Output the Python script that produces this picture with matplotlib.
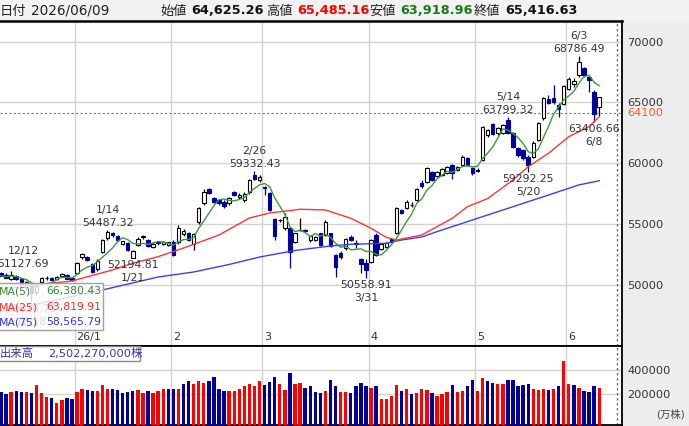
import numpy as np
import pandas as pd
import matplotlib
matplotlib.use('Agg')
import matplotlib.pyplot as plt
from matplotlib.patches import Rectangle

plt.rcParams['font.family'] = ['DejaVu Sans', 'Noto Sans CJK JP']

W, H = 689, 426

# ---- daily data, 2025/12/10 .. 2026/06/09 ----
opens = [
    51000, 50850, 50450, 50750, 50450, 49800, 50100, 49400, 50250, 50550,
    50560, 50450, 50700, 50850, 50550, 50950, 52270, 52300, 51700, 51280,
    52730, 53830, 54250, 54000, 53350, 53450, 52195, 53300, 53950, 53700,
    53150, 53500, 53400, 53300, 53560, 53500, 54150, 54240, 53380, 55190,
    56710, 57860, 57120, 56980, 56840, 56710, 57660, 57200, 56950, 57600,
    59040, 58630, 58080, 57530, 55420, 55300, 54650, 54650, 53560, 54480,
    54480, 53660, 53720, 54240, 54100, 54240, 52460, 52600, 53000, 53960,
    53400, 52100, 51800, 51910, 54100, 52990, 53140, 53750, 54290, 56160,
    56300, 56550, 57000, 58350, 58460, 59310, 58990, 59040, 59180, 59860,
    59450, 59860, 60410, 59590, 59400, 60270, 62330, 63210, 62470, 62470,
    63600, 62470, 61230, 61090, 60540, 60550, 61916, 63700, 65300, 65400,
    64800, 64900, 66100, 66500, 67260, 67810, 67120, 65890, 64625.26]
highs = [
    51100, 50950, 51127.69, 50850, 50550, 50300, 50200, 50000, 50650, 50700,
    50650, 50700, 51000, 50900, 50600, 51900, 52650, 52400, 51800, 52100,
    53800, 54487.32, 54350, 54100, 53650, 53550, 52900, 53900, 54100, 53800,
    53500, 53600, 53650, 53550, 53700, 54900, 54600, 54350, 54250, 56400,
    57860, 57950, 57250, 57100, 56950, 57200, 57750, 57550, 57600, 58700,
    59332.43, 59000, 58150, 57650, 55500, 55400, 55890, 54750, 54300, 55460,
    54600, 54050, 54000, 54300, 55300, 54300, 52550, 52800, 53850, 54100,
    53700, 52200, 52150, 53800, 54300, 53400, 53550, 53850, 56400, 56250,
    56950, 56800, 58000, 58630, 59700, 59400, 59400, 59600, 59750, 59950,
    59800, 60650, 60500, 59700, 59600, 63050, 62850, 63300, 62950, 63250,
    63799.32, 62550, 61300, 61200, 60650, 61800, 63400, 65450, 65620, 66440,
    64950, 66450, 67100, 67000, 68786.49, 67950, 67300, 66000, 65485.16]
lows = [
    50700, 50550, 50400, 50400, 49900, 49600, 48618.73, 49200, 50150, 50400,
    50350, 50400, 50650, 50450, 50300, 50900, 52150, 51950, 51000, 51150,
    52650, 53700, 53950, 53600, 53250, 52800, 52194.81, 53200, 53800, 53100,
    53050, 53300, 53300, 53200, 52350, 53400, 54000, 53600, 52870, 55000,
    56600, 57450, 56750, 56600, 56350, 56600, 57300, 57100, 56850, 57500,
    58600, 58500, 57400, 56100, 53700, 55200, 54500, 51360, 53450, 54450,
    54350, 53550, 53600, 53200, 54000, 53100, 50670, 52150, 52900, 53600,
    53000, 51000, 50558.91, 51800, 52350, 52850, 53050, 53450, 54200, 55800,
    56200, 56400, 56900, 58000, 58400, 58550, 58900, 58950, 59100, 58690,
    59350, 59750, 59750, 59050, 59250, 60200, 62200, 62300, 62350, 62400,
    62400, 61250, 60550, 60300, 59292.25, 60400, 61800, 63600, 64850, 64900,
    63830, 64800, 66000, 66300, 67100, 67100, 65890, 63406.66, 63918.96]
closes = [
    50750, 50600, 50850, 50500, 50050, 50200, 49300, 49900, 50580, 50600,
    50420, 50650, 50900, 50500, 50380, 51830, 52540, 52050, 51100, 51990,
    53690, 54320, 54100, 53700, 53600, 52870, 52810, 53800, 54000, 53200,
    53400, 53450, 53550, 53500, 52460, 54650, 54450, 53690, 54180, 56300,
    57660, 57580, 56840, 56700, 56490, 57120, 57390, 57420, 57480, 58630,
    58720, 58900, 57950, 56160, 54000, 55340, 55610, 52730, 54240, 54510,
    54430, 53980, 53900, 53280, 55200, 53200, 51500, 52270, 53750, 53700,
    53420, 51700, 51200, 53690, 52460, 53330, 53470, 53520, 56320, 55890,
    56840, 56570, 57900, 58100, 59590, 58630, 59310, 59500, 59660, 59180,
    59720, 60540, 59860, 59180, 59450, 62950, 62740, 62410, 62880, 63150,
    62470, 61370, 60680, 60410, 59860, 61700, 63290, 65340, 64930, 65000,
    64500, 66350, 66900, 66800, 68360, 67260, 66850, 64015.52, 65416.63]
# volume (万株); R = red bar, B = blue bar
volumes = [
    213900, 200000, 216700, 225000, 216700, 216700, 211100, 272200, 211100, 172200,
    163900, 127800, 152800, 163900, 155600, 216700, 244400, 236100, 227800, 225000,
    272200, 244400, 244400, 233300, 208300, 216700, 225000, 236100, 208300, 225000,
    208300, 225000, 244400, 244400, 244400, 244400, 283300, 308300, 283300, 308300,
    291700, 308300, 344400, 244400, 225000, 225000, 225000, 244400, 263900, 283300,
    263900, 308300, 272200, 297200, 344400, 283300, 236100, 372200, 283300, 291700,
    252800, 263900, 216700, 208300, 225000, 316700, 263900, 216700, 216700, 208300,
    263900, 291700, 263900, 252800, 263900, 161100, 161100, 180600, 272200, 225000,
    244400, 200000, 208300, 244400, 236100, 208300, 180600, 200000, 216700, 272200,
    216700, 225000, 263900, 316700, 225000, 336100, 308300, 288900, 283300, 283300,
    316700, 316700, 263900, 272200, 283300, 244400, 236100, 244400, 236100, 244400,
    263900, 475000, 283300, 272200, 252800, 225000, 216700, 263900, 250227]
vol_dir = ("BBRBBRBRRR" "BRRBBRRBBR" "RRBBBBBRRB" "RRRBBRBBRR" "RBBBBRRRRR"
           "RRBBBRRBRR" "BBBBRBBRRB" "BBBRBRRRRB" "RBRRRBRRRB" "RRBBRRBBRR"
           "BBBBBRRRBR" "BRRBRBBBR")

month_start = [15, 34, 52, 73, 94, 112]
month_labels = ['26/1', '2', '3', '4', '5', '6']

# moving averages (index, value)
ma25_idx = [0, 14, 22, 26, 31, 36, 43, 49, 53, 59, 64, 69, 73, 76, 78, 83, 86,
            89, 92, 96, 101, 104, 108, 112, 116, 118]
ma25_val = [49700, 50320, 51230, 51780, 52320, 53030, 54100, 55500, 55910, 56220,
            56160, 55480, 54650, 53910, 53690, 54100, 54790, 55470, 56430, 57100,
            58630, 59720, 60820, 62190, 63010, 63819.91]
ma75_idx = [0, 20, 31, 38, 45, 51, 58, 65, 69, 76, 79, 83, 86, 89, 92, 96, 101,
            108, 114, 118]
ma75_val = [47800, 49580, 50650, 51060, 51680, 52290, 52830, 53200, 53340, 53420,
            53690, 53940, 54380, 54790, 55200, 55750, 56430, 57390, 58220, 58565.79]

mark_idx = [2, 6, 21, 26, 50, 72, 100, 104, 114, 117]
mark_date = ['12/12', '12/18', '1/14', '1/21', '2/26', '3/31', '5/14', '5/20', '6/3', '6/8']
mark_high = [True, False, True, False, True, False, True, False, True, False]
mark_dx = [8.5, 0, 0, 0, 0, 0, 0, 0, 0, 0]

last_price = 64100
header = [('始値', '64,625.26', '#111111'), ('高値', '65,485.16', '#ff0000'),
          ('安値', '63,918.96', '#1a7a1a'), ('終値', '65,416.63', '#111111')]

o = np.array(opens, float)
h = np.array(highs, float)
l = np.array(lows, float)
c = np.array(closes, float)
n = len(c)
x = np.arange(n)
ma5 = pd.Series(c).rolling(5, min_periods=1).mean()

BLUE = '#00009a'
GRID = '#d2d2d2'


def fx(px):
    return px / W


def fy(py):
    return 1 - py / H


fig = plt.figure(figsize=(W / 100, H / 100), dpi=100)
fig.patches.append(Rectangle((fx(622), 0), 1 - fx(622), fy(21), transform=fig.transFigure,
                             facecolor='#ededed', edgecolor='none', zorder=-5))
fig.patches.append(Rectangle((0, fy(21)), 1, 1 - fy(21), transform=fig.transFigure,
                             facecolor='#f2f2f2', edgecolor='none', zorder=-5))

ax = fig.add_axes([0, fy(345.7), fx(622), (345.7 - 21) / H])
av = fig.add_axes([0, fy(424.5), fx(622), (424.5 - 345.7) / H])

for a in (ax, av):
    a.set_xlim(-0.2, 122.5)
    a.set_xticks(np.array(month_start) - 0.5)
    a.set_xticklabels([])
    a.tick_params(axis='x', length=0)
    a.yaxis.tick_right()
    a.tick_params(axis='y', length=0, pad=3.6, labelsize=8.2, labelcolor='#333333')
    a.grid(True, color=GRID, lw=1)
    a.set_axisbelow(True)
    a.spines['left'].set_visible(False)
    for s in ('top', 'right', 'bottom'):
        a.spines[s].set_color('black')
        a.spines[s].set_linewidth(1.3)
    a.axvline(121.5, color='#666666', lw=0.9, ls=(0, (2, 2)))

# ---- price panel ----
ax.set_ylim(45000, 71700)
ax.set_yticks([50000, 55000, 60000, 65000, 70000])
ax.spines['top'].set_linewidth(1.8)

up = c >= o
ax.vlines(x, l, h, colors=np.where(up, 'black', BLUE), lw=0.9, zorder=2)
ax.bar(x[up], (c - o)[up], bottom=o[up], width=0.68, facecolor='white',
       edgecolor='black', lw=0.8, zorder=3)
ax.bar(x[~up], (o - c)[~up], bottom=c[~up], width=0.68, facecolor=BLUE,
       edgecolor=BLUE, lw=0.8, zorder=3)

ax.plot(ma75_idx, ma75_val, color='#3c3cff', lw=1.0, zorder=4)
ax.plot(ma25_idx, ma25_val, color='#ff3535', lw=1.0, zorder=4)
ax.plot(x, ma5, color='#3a9a3a', lw=1.0, zorder=4)

ax.axhline(last_price, color='#777777', lw=0.8, ls=(0, (2, 2)), zorder=1)
ax.annotate(str(last_price), xy=(1, last_price), xycoords=('axes fraction', 'data'),
            xytext=(3.6, 0), textcoords='offset points', ha='left', va='center',
            fontsize=8.2, color='#ff5a2a', annotation_clip=False)

for i, d, hi, dx in zip(mark_idx, mark_date, mark_high, mark_dx):
    val = h[i] if hi else l[i]
    sgn = 1 if hi else -1
    ax.annotate('%.2f' % val, xy=(i, val), xytext=(dx, sgn * 5.2),
                textcoords='offset points', ha='center', va='center',
                fontsize=7.8, color='#333333', zorder=5)
    ax.annotate(d, xy=(i, val), xytext=(dx, sgn * 14.6),
                textcoords='offset points', ha='center', va='center',
                fontsize=7.8, color='#333333', zorder=5)

for m, lab in zip(month_start, month_labels):
    ax.annotate(lab, xy=(m - 0.5, 0.027), xycoords=('data', 'axes fraction'),
                xytext=(1.5, 0), textcoords='offset points', ha='left', va='center',
                fontsize=8, color='#333333')

# ---- volume panel ----
vlo, vhi = -54000, 602500
av.set_ylim(vlo, vhi)
av.set_yticks([200000, 400000])
av.set_yticklabels(['200000', '400000'])
vols = np.array(volumes, float)
vcol = [('#ff0000' if d == 'R' else BLUE) for d in vol_dir]
av.bar(x, vols - vlo, bottom=vlo, width=0.66, color=vcol, zorder=3)

fig.text(fx(685), fy(414), '(万株)', ha='right', va='center', fontsize=7.5, color='#444444')

# ---- header ----
fig.text(fx(0), fy(11), '日付', ha='left', va='center', fontsize=9.5, color='#222222')
fig.text(fx(31), fy(11), '2026/06/09', ha='left', va='center', fontsize=9.8, color='#222222')
lab_x = [160, 266, 369, 474]
for (lab, val, col), px in zip(header, lab_x):
    fig.text(fx(px), fy(11), lab, ha='left', va='center', fontsize=9.5, color='#222222')
    fig.text(fx(px + 31), fy(11), val, ha='left', va='center', fontsize=9.3,
             fontweight='bold', color=col)

# ---- MA legend box ----
fig.patches.append(Rectangle((fx(-2), fy(330)), fx(105), (330 - 283) / H,
                             transform=fig.transFigure, facecolor=(1, 1, 1, 0.82),
                             edgecolor='#a0a0a0', lw=1, zorder=5))
legend_rows = [('MA(5)', ma5.iloc[-1], '#2f8a2f', 291),
               ('MA(25)', ma25_val[-1], '#ff2a2a', 307),
               ('MA(75)', ma75_val[-1], '#3030ff', 322.5)]
for name, val, col, py in legend_rows:
    fig.text(fx(-1.5), fy(py), name, ha='left', va='center', fontsize=7.8, color=col, zorder=6)
    fig.text(fx(101), fy(py), '{:,.2f}'.format(val), ha='right', va='center',
             fontsize=7.8, color=col, zorder=6)

# ---- volume caption box ----
fig.patches.append(Rectangle((fx(-2), fy(361)), fx(142), (361 - 345.7) / H,
                             transform=fig.transFigure, facecolor='white',
                             edgecolor='#8a8a8a', lw=1, zorder=5))
fig.text(fx(0), fy(353.5), '出来高', ha='left', va='center', fontsize=8.2,
         color='#3535b0', zorder=6)
fig.text(fx(48), fy(353.5), '2,502,270,000株', ha='left', va='center', fontsize=8.2,
         color='#3535b0', zorder=6)

fig.savefig('out.png', dpi=100)
